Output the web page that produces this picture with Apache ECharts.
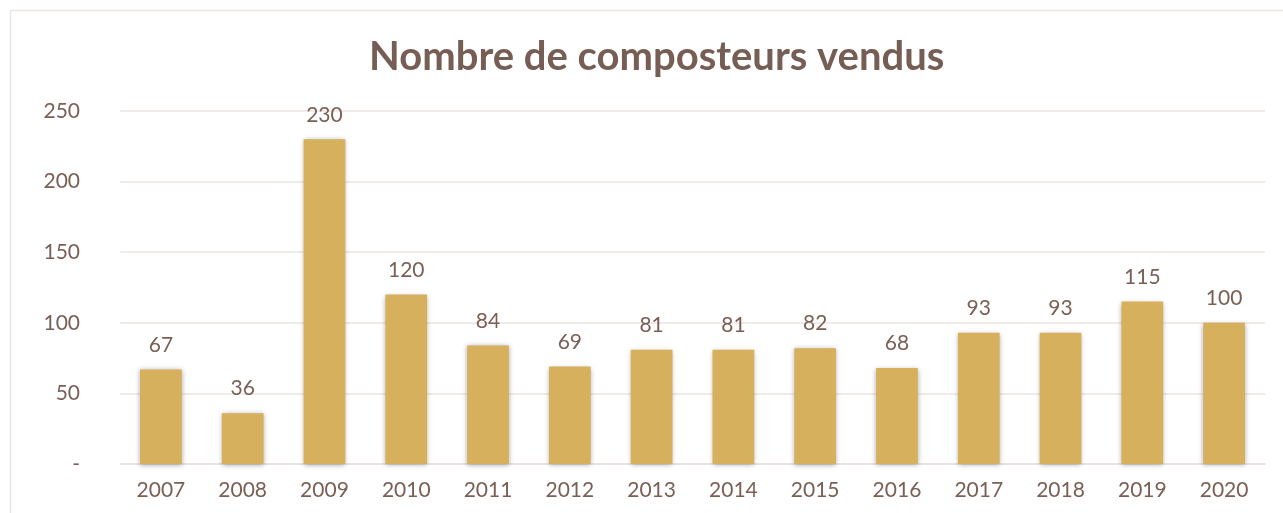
<!DOCTYPE html>
<html><head><meta charset="utf-8">
<script src="https://cdn.jsdelivr.net/npm/echarts@6/dist/echarts.min.js"></script>
<style>html,body{margin:0;padding:0;background:#fff}#c{width:1283px;height:513px}</style>
</head><body><div id="c"></div>
<script>
const title = 'Nombre de composteurs vendus';
const categories = ['2007','2008','2009','2010','2011','2012','2013','2014','2015','2016','2017','2018','2019','2020'];
const values = [67,36,230,120,84,69,81,81,82,68,93,93,115,100];
const yTicks = [0,50,100,150,200,250];

const textColor = '#7a5f55';
const font = 'Lato, "Noto Sans", sans-serif';
const chart = echarts.init(document.getElementById('c'));
chart.setOption({
  backgroundColor: '#fff',
  animation: false,
  title: {
    text: title, left: 364, top: 32,
    textStyle: {color: '#765e54', fontSize: 40, fontWeight: 'bold', fontFamily: font}
  },
  graphic: [{type:'rect', shape:{x:10.5,y:10.5,width:1400,height:600}, style:{fill:'none', stroke:'#ece6e3', lineWidth:1.5}, silent:true}],
  grid: {left: 120, right: 18, top: 111, bottom: 49, containLabel: false},
  xAxis: {
    type: 'category', data: categories,
    axisTick: {show:false},
    axisLine: {show:true, lineStyle:{color:'#e6dfdc', width:1.5}},
    axisLabel: {color: textColor, fontSize: 21, fontFamily: font, margin: 16}
  },
  yAxis: {
    type: 'value', min: 0, max: 250, interval: 50,
    axisLine: {show:false}, axisTick: {show:false},
    splitLine: {lineStyle:{color:'#ebe5e2', width:1.5}},
    axisLabel: {color: textColor, fontSize: 21, fontFamily: font, margin: 40,
      formatter: v => yTicks.indexOf(v) >= 0 ? (v === 0 ? '-' : String(v)) : ''}
  },
  series: [{
    type: 'bar', data: values, barWidth: '51%',
    itemStyle: {color: '#d6b05c', shadowColor: 'rgba(0,0,0,0.35)', shadowBlur: 5, shadowOffsetX: 0, shadowOffsetY: 1},
    label: {show: true, position: 'top', distance: 14, color: textColor, fontSize: 21, fontFamily: font}
  }]
});
</script></body></html>
